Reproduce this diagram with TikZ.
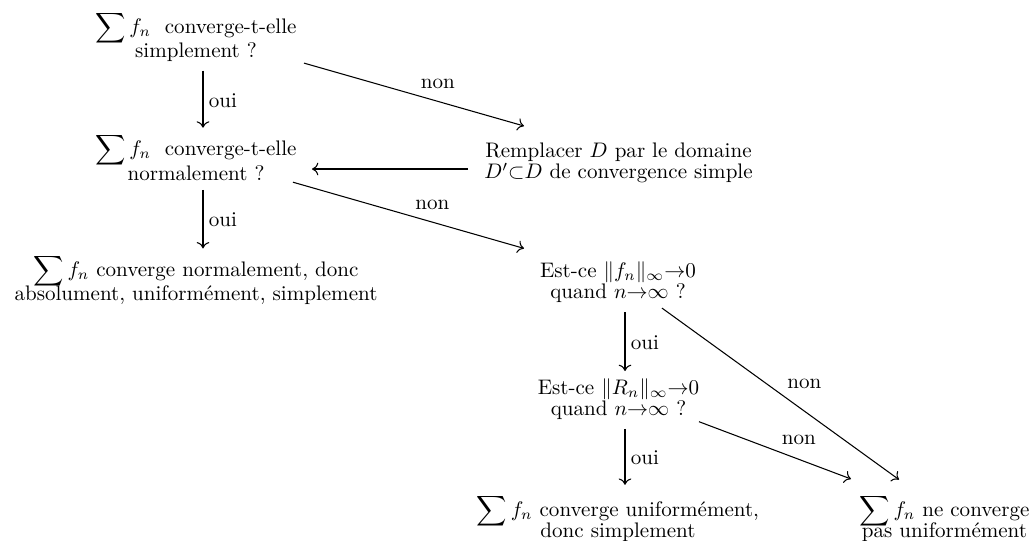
\documentclass[tikz,border=0pt]{standalone}
\usetikzlibrary{arrows.meta}
\newcommand\twolines[3]{\vtop{\baselineskip=#1\relax\lineskiplimit=-1000pt\lineskip=0pt\halign{\hfil##\hfil\cr#2\cr#3\cr}}}
\begin{document}
\begin{tikzpicture}[x=0.475pt,y=-0.475pt,
  box/.style={anchor=base,inner sep=0pt,outer sep=0pt},
  arr/.style={line width=0.5pt,-{To[length=3pt,width=6pt]}},
  oui/.style={pos=0.5,xshift=9.5pt,yshift=-0.5pt,inner sep=0pt},
  non/.style={pos=0.5,xshift=11.3pt,yshift=4.9pt,inner sep=0pt}]
\useasboundingbox (0,0) rectangle (1029,541);
\node[box] (n1) at (196,33) {\twolines{11.7pt}{$\displaystyle\sum f_n$\hspace{6.5pt}converge-t-elle}{simplement ?}};
\node[box] (n2) at (196,155.5) {\twolines{11.7pt}{$\displaystyle\sum f_n$\hspace{6.5pt}converge-t-elle}{normalement ?}};
\node[box] (n3) at (618.5,157) {\twolines{10.3pt}{Remplacer $D$ par le domaine}{$D'{\subset}D$ de convergence simple}};
\node[box] (n4) at (196,276) {\twolines{11.5pt}{$\displaystyle\sum f_n$ converge normalement, donc}{absolument, uniformément, simplement}};
\node[box] (n5) at (618,277.8) {\twolines{10pt}{Est-ce $\|f_n\|_\infty{\to}0$}{quand $n{\to}\infty$ ?}};
\node[box] (n6) at (618.5,394) {\twolines{10pt}{Est-ce $\|R_n\|_\infty{\to}0$}{quand $n{\to}\infty$ ?}};
\node[box] (n7) at (618,516) {\twolines{10.3pt}{$\displaystyle\sum f_n$ converge uniformément,}{donc simplement}};
\node[box] (n8) at (944.5,516) {\twolines{10.3pt}{$\displaystyle\sum f_n$ ne converge}{pas uniformément}};
\draw[arr] ([shift={(7,37.7)}]n1.base) -- node[oui]{oui} ([shift={(7,-27.8)}]n2.base);
\draw[arr] ([shift={(7,34.3)}]n2.base) -- node[oui]{oui} ([shift={(7,-27.6)}]n4.base);
\draw[arr] ([shift={(108,30.1)}]n1.base) -- node[non]{non} ([shift={(-94.5,-31)}]n3.base);
\draw[arr] ([shift={(-150.5,12)}]n3.base) -- ([shift={(116,13.5)}]n2.base);
\draw[arr] ([shift={(97,26.7)}]n2.base) -- node[non]{non} ([shift={(-94,-29.4)}]n5.base);
\draw[arr] ([shift={(7,34.5)}]n5.base) -- node[oui]{oui} ([shift={(6.5,-23)}]n6.base);
\draw[arr] ([shift={(6.5,34.9)}]n6.base) -- node[oui]{oui} ([shift={(7,-31.2)}]n7.base);
\draw[arr] ([shift={(44,30.3)}]n5.base) -- node[non]{non} ([shift={(-45.5,-36.4)}]n8.base);
\draw[arr] ([shift={(80.5,27.7)}]n6.base) -- node[non]{non} ([shift={(-93.5,-37)}]n8.base);
\end{tikzpicture}
\end{document}
